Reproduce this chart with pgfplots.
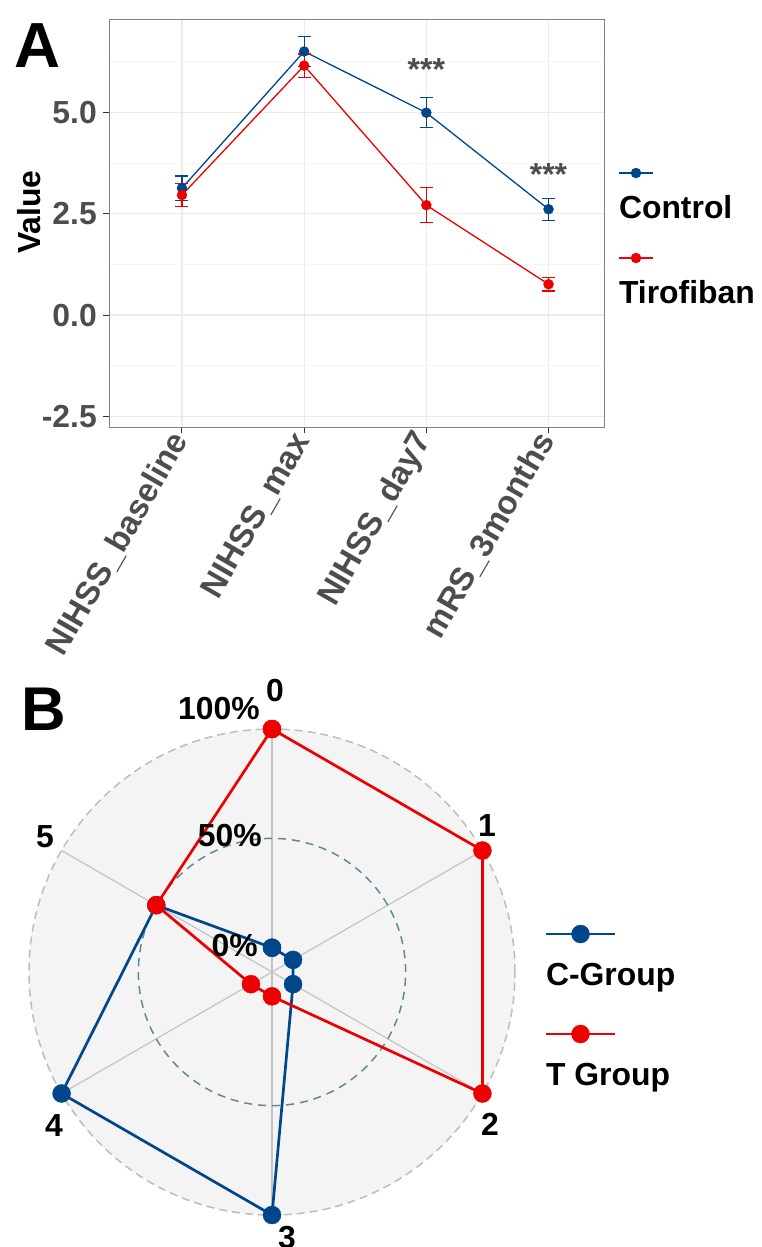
\documentclass[border=0pt]{standalone}
\usepackage{fontspec}
\setmainfont{Liberation Sans}
\usepackage{pgfplots}
\usepackage{pgfplotstable}
\pgfplotsset{compat=1.18}
\definecolor{cblue}{HTML}{00468B}
\definecolor{cred}{HTML}{ED0000}
\definecolor{tickgray}{HTML}{4D4D4D}
\definecolor{tickmark}{HTML}{333333}
\definecolor{gridmaj}{HTML}{EBEBEB}
\definecolor{gridmin}{HTML}{F5F5F5}
\definecolor{radarbg}{HTML}{F4F4F4}
\definecolor{outergrid}{HTML}{BDBDBD}
\definecolor{midgrid}{HTML}{5F8A94}
\definecolor{axisgrid}{HTML}{C4C4C4}
\newcommand\fs[1]{\fontsize{#1}{#1}\selectfont\bfseries}

\pgfplotstableread{
x  y     e
1  3.13  0.30
2  6.50  0.37
3  4.99  0.37
4  2.61  0.27
}\control
\pgfplotstableread{
x  y     e
1  2.96  0.29
2  6.15  0.29
3  2.71  0.43
4  0.76  0.17
}\tirofiban

\begin{document}
\begin{tikzpicture}
\useasboundingbox (0bp,0bp) rectangle (762bp,-1247bp);
\node[anchor=base west, inner sep=0pt, font=\fs{64}] at (14bp,-67bp) {A};
\node[anchor=base west, inner sep=0pt, font=\fs{62}] at (21bp,-730bp) {B};

\begin{axis}[
  at={(109.5bp,-427bp)}, anchor=south west,
  scale only axis, width=495bp, height=408bp,
  xmin=0.407, xmax=4.458, ymin=-2.76, ymax=7.30,
  axis line style={draw=gray, line width=1bp},
  tick align=outside, tick pos=left,
  major tick length=6bp, minor tick length=0bp,
  tick style={draw=tickmark, line width=1bp},
  xtick={1,2,3,4},
  xticklabels={NIHSS\_baseline,NIHSS\_max,NIHSS\_day7,mRS\_3months},
  ytick={-2.5,0,2.5,5},
  yticklabels={-2.5,0.0,2.5,5.0},
  minor ytick={-1.25,1.25,3.75,6.25},
  grid=both,
  major grid style={draw=gridmaj, line width=1.2bp},
  minor grid style={draw=gridmin, line width=0.7bp},
  yticklabel style={font=\fs{32}, text=tickgray, inner xsep=6.5bp},
  xticklabel style={font=\fs{33}, text=tickgray, rotate=60, anchor=east, inner sep=3bp},
  ylabel={Value},
  ylabel style={at={(axis description cs:-0.1626,0.527)}, anchor=center, font=\fs{32}},
  error bars/y dir=both, error bars/y explicit,
  error bars/error bar style={line width=1.3bp},
  error bars/error mark options={rotate=90, line width=1.3bp, mark size=6.5bp},
  legend image code/.code={
    \draw[overlay, mark repeat=2, mark phase=2, #1] plot coordinates {(0bp,45bp) (17bp,45bp) (34bp,45bp)};
  },
  legend style={at={(axis description cs:1.0293,0.5686)}, anchor=north west, draw=none, fill=none,
    inner sep=0pt, outer sep=0pt, row sep=62bp, column sep=0pt, font=\fs{32},
    nodes={inner sep=0pt, text height=23bp, text depth=0pt}, cells={anchor=base west}},
]
\addplot[cblue, line width=1.3bp, mark=*, mark size=5bp, mark options={line width=0.4bp}]
  table[x=x, y=y, y error=e] {\control};
\addlegendentry{Control}
\addplot[cred, line width=1.3bp, mark=*, mark size=5bp, mark options={line width=0.4bp}]
  table[x=x, y=y, y error=e] {\tirofiban};
\addlegendentry{Tirofiban}
\node[anchor=base, font=\fs{32}, text=tickgray] at (axis cs:3,5.78) {***};
\node[anchor=base, font=\fs{32}, text=tickgray] at (axis cs:4,3.19) {***};
\end{axis}

\begin{axis}[
  at={(272bp,-972bp)}, anchor=origin,
  x=2.187bp, y=2.187bp,
  xmin=-125, xmax=125, ymin=-125, ymax=125,
  axis lines=none, clip=false,
  legend image code/.code={
    \draw[overlay, mark repeat=2, mark phase=2, #1] plot coordinates {(0bp,51bp) (34.5bp,51bp) (69bp,51bp)};
  },
  legend style={at={(axis description cs:1.0012,0.5183)}, anchor=north west, draw=none, fill=none,
    inner sep=0pt, outer sep=0pt, row sep=77bp, column sep=0pt, font=\fs{32},
    nodes={inner sep=0pt, text height=23bp, text depth=0pt}, cells={anchor=base west}},
]
\fill[radarbg] (axis cs:0,0) circle[radius=111.11];
\draw[outergrid, line width=1.5bp, dash pattern=on 8bp off 5bp] (axis cs:0,0) circle[radius=111.11];
\addplot[axisgrid, line width=1.2bp, data cs=polar, forget plot] coordinates {(90,0) (90,111.11)};
\addplot[axisgrid, line width=1.2bp, data cs=polar, forget plot] coordinates {(30,0) (30,111.11)};
\addplot[axisgrid, line width=1.2bp, data cs=polar, forget plot] coordinates {(-30,0) (-30,111.11)};
\addplot[axisgrid, line width=1.2bp, data cs=polar, forget plot] coordinates {(-90,0) (-90,111.11)};
\addplot[axisgrid, line width=1.2bp, data cs=polar, forget plot] coordinates {(-150,0) (-150,111.11)};
\addplot[axisgrid, line width=1.2bp, data cs=polar, forget plot] coordinates {(150,0) (150,111.11)};
\draw[midgrid, line width=1.5bp, dash pattern=on 8bp off 6bp] (axis cs:0,0) circle[radius=61.11];
% radius = percent + 11.11 (centre offset)
\addplot[cblue, line width=2.7bp, mark=*, mark size=9bp, mark options={line width=0.4bp}, data cs=polar]
  coordinates {(90,11.11) (30,11.11) (-30,11.11) (-90,111.11) (-150,111.11) (150,61.11) (90,11.11)};
\addlegendentry{C-Group}
\addplot[cred, line width=2.7bp, mark=*, mark size=9bp, mark options={line width=0.4bp}, data cs=polar]
  coordinates {(90,111.11) (30,111.11) (-30,111.11) (-90,11.11) (-150,11.11) (150,61.11) (90,111.11)};
\addlegendentry{T Group}
\node[anchor=east, inner sep=0pt, font=\fs{32}] at (axis cs:-6.4,12.3) {0\%};
\node[anchor=east, inner sep=0pt, font=\fs{32}] at (axis cs:-4.6,62.6) {50\%};
\node[anchor=east, inner sep=0pt, font=\fs{32}] at (axis cs:-5.5,120.7) {100\%};
\node[inner sep=0pt, font=\fs{32}] at (axis cs:1.4,128.5) {0};
\node[inner sep=0pt, font=\fs{32}] at (axis cs:98.3,67.2) {1};
\node[inner sep=0pt, font=\fs{32}] at (axis cs:99.7,-69.5) {2};
\node[inner sep=0pt, font=\fs{32}] at (axis cs:6.9,-121.2) {3};
\node[inner sep=0pt, font=\fs{32}] at (axis cs:-99.7,-70.4) {4};
\node[inner sep=0pt, font=\fs{32}] at (axis cs:-103.8,61.7) {5};
\end{axis}
\end{tikzpicture}
\end{document}
